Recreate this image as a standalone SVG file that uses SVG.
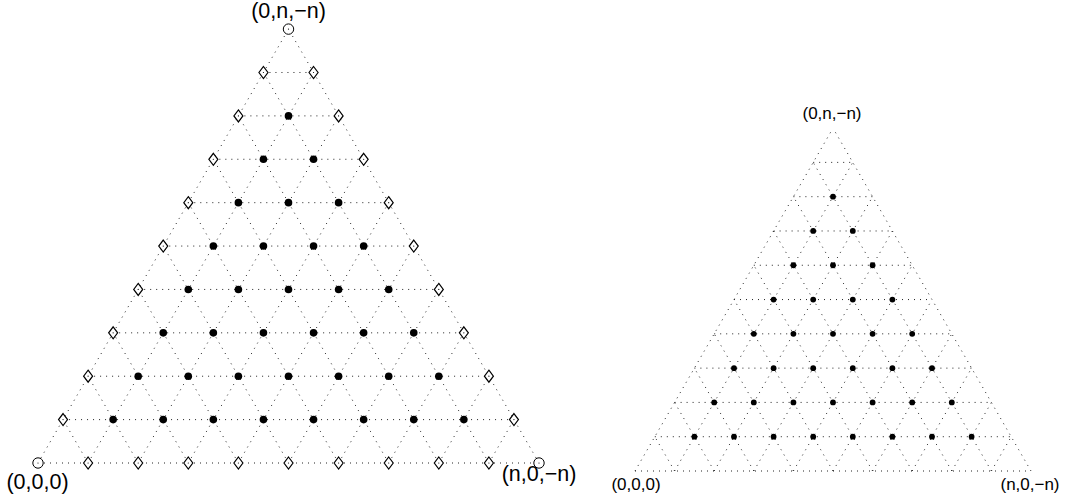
<svg xmlns="http://www.w3.org/2000/svg" xmlns:xlink="http://www.w3.org/1999/xlink" width="1067" height="504" viewBox="0 0 1067 504">
<style>
.g{stroke:#222;stroke-width:1;stroke-dasharray:1 5;fill:none}
.lbl{font-family:"Liberation Sans",Arial,sans-serif;text-anchor:middle;fill:#000}
.big{font-size:21.5px}
.sm{font-size:17px}
</style>
<defs>
<g id="vc"><circle r="5.2" fill="#fff" stroke="#000" stroke-width="1"/><circle r="0.6" fill="#000"/></g>
<g id="dm"><polygon points="0,-6 4.5,0 0,6 -4.5,0" fill="#fff" stroke="#000" stroke-width="1.2"/><circle r="0.6" fill="#000"/></g>
<circle id="bd" r="3.8" fill="#000"/>
<circle id="sd" r="2.9" fill="#000"/>
</defs>
<rect width="1067" height="504" fill="#fff"/>
<g id="connectors">
<g id="left-grid" class="g">
<path d="M38,463H539M63.05,419.61H513.95M88.1,376.22H488.9M113.15,332.83H463.85M138.2,289.44H438.8M163.25,246.05H413.75M188.3,202.66H388.7M213.35,159.27H363.65M238.4,115.88H338.6M263.45,72.49H313.55"/>
<path d="M38,463L288.5,29.1M88.1,463L313.55,72.49M138.2,463L338.6,115.88M188.3,463L363.65,159.27M238.4,463L388.7,202.66M288.5,463L413.75,246.05M338.6,463L438.8,289.44M388.7,463L463.85,332.83M438.8,463L488.9,376.22M488.9,463L513.95,419.61"/>
<path d="M88.1,463L63.05,419.61M138.2,463L88.1,376.22M188.3,463L113.15,332.83M238.4,463L138.2,289.44M288.5,463L163.25,246.05M338.6,463L188.3,202.66M388.7,463L213.35,159.27M438.8,463L238.4,115.88M488.9,463L263.45,72.49M539,463L288.5,29.1"/>
</g>
<g id="right-grid" class="g">
<path d="M635,471H1031M654.8,436.71H1011.2M674.6,402.42H991.4M694.4,368.13H971.6M714.2,333.84H951.8M734,299.55H932M753.8,265.26H912.2M773.6,230.97H892.4M793.4,196.68H872.6M813.2,162.39H852.8"/>
<path d="M635,471L833,128.1M674.6,471L852.8,162.39M714.2,471L872.6,196.68M753.8,471L892.4,230.97M793.4,471L912.2,265.26M833,471L932,299.55M872.6,471L951.8,333.84M912.2,471L971.6,368.13M951.8,471L991.4,402.42M991.4,471L1011.2,436.71"/>
<path d="M674.6,471L654.8,436.71M714.2,471L674.6,402.42M753.8,471L694.4,368.13M793.4,471L714.2,333.84M833,471L734,299.55M872.6,471L753.8,265.26M912.2,471L773.6,230.97M951.8,471L793.4,196.68M991.4,471L813.2,162.39M1031,471L833,128.1"/>
</g>
</g>
<g id="left-vertices">
<use id="lv0" href="#vc" x="38" y="463"/>
<use id="lv1" href="#vc" x="539" y="463"/>
<use id="lv2" href="#vc" x="288.5" y="29.1"/>
</g>
<g id="left-boundary">
<use href="#dm" x="88.1" y="463"/><use href="#dm" x="138.2" y="463"/><use href="#dm" x="188.3" y="463"/><use href="#dm" x="238.4" y="463"/><use href="#dm" x="288.5" y="463"/><use href="#dm" x="338.6" y="463"/><use href="#dm" x="388.7" y="463"/><use href="#dm" x="438.8" y="463"/><use href="#dm" x="488.9" y="463"/>
<use href="#dm" x="63.05" y="419.61"/><use href="#dm" x="88.1" y="376.22"/><use href="#dm" x="113.15" y="332.83"/><use href="#dm" x="138.2" y="289.44"/><use href="#dm" x="163.25" y="246.05"/><use href="#dm" x="188.3" y="202.66"/><use href="#dm" x="213.35" y="159.27"/><use href="#dm" x="238.4" y="115.88"/><use href="#dm" x="263.45" y="72.49"/>
<use href="#dm" x="513.95" y="419.61"/><use href="#dm" x="488.9" y="376.22"/><use href="#dm" x="463.85" y="332.83"/><use href="#dm" x="438.8" y="289.44"/><use href="#dm" x="413.75" y="246.05"/><use href="#dm" x="388.7" y="202.66"/><use href="#dm" x="363.65" y="159.27"/><use href="#dm" x="338.6" y="115.88"/><use href="#dm" x="313.55" y="72.49"/>
</g>
<g id="left-interior">
<use href="#bd" x="113.15" y="419.61"/><use href="#bd" x="163.25" y="419.61"/><use href="#bd" x="213.35" y="419.61"/><use href="#bd" x="263.45" y="419.61"/><use href="#bd" x="313.55" y="419.61"/><use href="#bd" x="363.65" y="419.61"/><use href="#bd" x="413.75" y="419.61"/><use href="#bd" x="463.85" y="419.61"/>
<use href="#bd" x="138.2" y="376.22"/><use href="#bd" x="188.3" y="376.22"/><use href="#bd" x="238.4" y="376.22"/><use href="#bd" x="288.5" y="376.22"/><use href="#bd" x="338.6" y="376.22"/><use href="#bd" x="388.7" y="376.22"/><use href="#bd" x="438.8" y="376.22"/>
<use href="#bd" x="163.25" y="332.83"/><use href="#bd" x="213.35" y="332.83"/><use href="#bd" x="263.45" y="332.83"/><use href="#bd" x="313.55" y="332.83"/><use href="#bd" x="363.65" y="332.83"/><use href="#bd" x="413.75" y="332.83"/>
<use href="#bd" x="188.3" y="289.44"/><use href="#bd" x="238.4" y="289.44"/><use href="#bd" x="288.5" y="289.44"/><use href="#bd" x="338.6" y="289.44"/><use href="#bd" x="388.7" y="289.44"/>
<use href="#bd" x="213.35" y="246.05"/><use href="#bd" x="263.45" y="246.05"/><use href="#bd" x="313.55" y="246.05"/><use href="#bd" x="363.65" y="246.05"/>
<use href="#bd" x="238.4" y="202.66"/><use href="#bd" x="288.5" y="202.66"/><use href="#bd" x="338.6" y="202.66"/>
<use href="#bd" x="263.45" y="159.27"/><use href="#bd" x="313.55" y="159.27"/>
<use href="#bd" x="288.5" y="115.88"/>
</g>
<g id="right-interior">
<use href="#sd" x="694.4" y="436.71"/><use href="#sd" x="734" y="436.71"/><use href="#sd" x="773.6" y="436.71"/><use href="#sd" x="813.2" y="436.71"/><use href="#sd" x="852.8" y="436.71"/><use href="#sd" x="892.4" y="436.71"/><use href="#sd" x="932" y="436.71"/><use href="#sd" x="971.6" y="436.71"/>
<use href="#sd" x="714.2" y="402.42"/><use href="#sd" x="753.8" y="402.42"/><use href="#sd" x="793.4" y="402.42"/><use href="#sd" x="833" y="402.42"/><use href="#sd" x="872.6" y="402.42"/><use href="#sd" x="912.2" y="402.42"/><use href="#sd" x="951.8" y="402.42"/>
<use href="#sd" x="734" y="368.13"/><use href="#sd" x="773.6" y="368.13"/><use href="#sd" x="813.2" y="368.13"/><use href="#sd" x="852.8" y="368.13"/><use href="#sd" x="892.4" y="368.13"/><use href="#sd" x="932" y="368.13"/>
<use href="#sd" x="753.8" y="333.84"/><use href="#sd" x="793.4" y="333.84"/><use href="#sd" x="833" y="333.84"/><use href="#sd" x="872.6" y="333.84"/><use href="#sd" x="912.2" y="333.84"/>
<use href="#sd" x="773.6" y="299.55"/><use href="#sd" x="813.2" y="299.55"/><use href="#sd" x="852.8" y="299.55"/><use href="#sd" x="892.4" y="299.55"/>
<use href="#sd" x="793.4" y="265.26"/><use href="#sd" x="833" y="265.26"/><use href="#sd" x="872.6" y="265.26"/>
<use href="#sd" x="813.2" y="230.97"/><use href="#sd" x="852.8" y="230.97"/>
<use href="#sd" x="833" y="196.68"/>
</g>
<g id="labels">
<text class="lbl big" x="288.5" y="18">(0,n,−n)</text>
<text class="lbl big" x="37.5" y="489">(0,0,0)</text>
<text class="lbl big" x="539" y="481">(n,0,−n)</text>
<text class="lbl sm" x="832" y="118.5">(0,n,−n)</text>
<text class="lbl sm" x="636" y="489.5">(0,0,0)</text>
<text class="lbl sm" x="1030" y="489.5">(n,0,−n)</text>
</g>
</svg>
